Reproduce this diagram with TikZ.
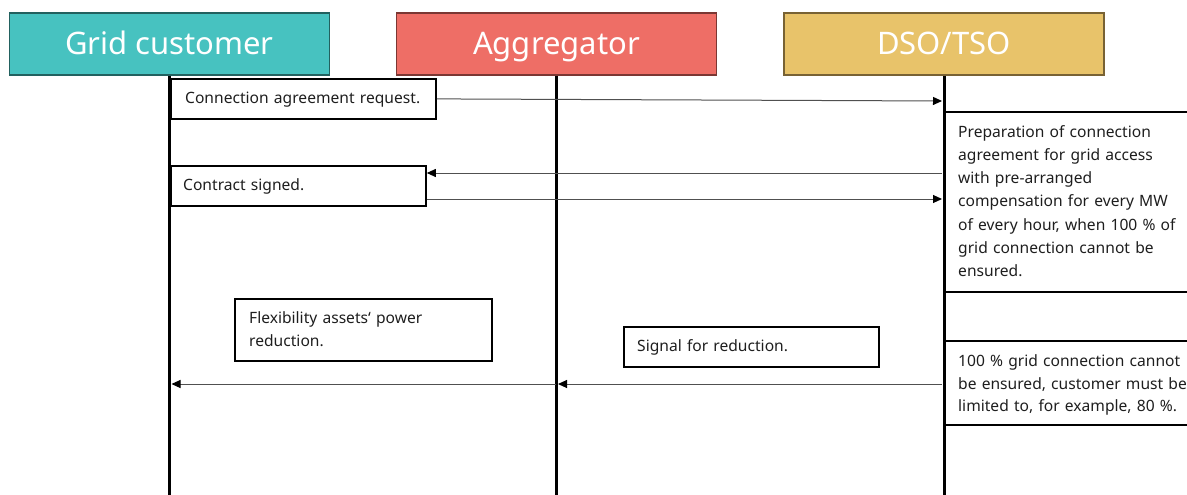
\documentclass[tikz,border=0pt]{standalone}
\usepackage{fontspec}
\setmainfont{Noto Sans}
\usetikzlibrary{arrows.meta}
\definecolor{gcfill}{HTML}{47C2C0}
\definecolor{gcdraw}{HTML}{22615F}
\definecolor{agfill}{HTML}{EE6E66}
\definecolor{agdraw}{HTML}{7B3733}
\definecolor{dsofill}{HTML}{E8C36A}
\definecolor{dsodraw}{HTML}{786234}
\definecolor{msgline}{HTML}{505050}
\definecolor{txt}{HTML}{1E1E1E}

\begin{document}
\begin{tikzpicture}[x=1pt,y=-1pt,
  actor/.style={draw=#1, line width=1.5pt, minimum width=320pt, minimum height=62pt,
    inner sep=0pt},
  actorlabel/.style={anchor=base, inner sep=0pt, text=white,
    font=\fontsize{31}{36}\selectfont},
  lifeline/.style={line width=3pt, black},
  note/.style={draw=black, line width=1.8pt, anchor=north west, inner sep=0pt},
  % first line top = baseline - strut height (0.7 * 23.2pt)
  lbl/.style={anchor=north west, inner sep=0pt, text width=320pt, align=left,
    text=txt, font=\fontsize{15.6}{23.2}\selectfont},
  msg/.style={draw=msgline, line width=1pt, -{Triangle[length=9pt,width=8pt,color=black]}}
]
\useasboundingbox (0,0) rectangle (1187,495);
\coordinate (bottom) at (0,497);

% actors
\node[actor=gcdraw, fill=gcfill]   (gc)  at (169.5,44) {};
\node[actor=agdraw, fill=agfill]   (agg) at (556.5,44) {};
\node[actor=dsodraw, fill=dsofill] (dso) at (944,44)   {};
\node[actorlabel] (gcT)  at (169.5,55) {Grid customer};
\node[actorlabel] (aggT) at (556.5,55) {Aggregator};
\node[actorlabel] (dsoT) at (944,55)   {DSO/TSO};

% lifelines
\draw[lifeline] (gc.south)  -- (gc.south |- bottom);
\draw[lifeline] (agg.south) -- (agg.south |- bottom);
\draw[lifeline] (dso.south) -- (dso.south |- bottom);

% note boxes
\node[note, minimum width=265pt, minimum height=40pt]  (req)      at (170,78)  {};
\node[note, minimum width=255pt, minimum height=40pt]  (contract) at (170,165) {};
\node[note, minimum width=257pt, minimum height=62pt]  (flex)     at (234,298) {};
\node[note, minimum width=255pt, minimum height=40pt]  (signal)   at (623,326) {};
\node[note, minimum width=260pt, minimum height=180pt] (prep)     at (943,111) {};
\node[note, minimum width=260pt, minimum height=49pt]  (gap)      at (943,291) {};
\node[note, minimum width=260pt, minimum height=84pt]  (limit)    at (943,340) {};

% note texts (positions are first-line baselines minus 16.24pt)
\node[lbl] (reqT)      at (185,87.5)    {\strut Connection agreement request.};
\node[lbl] (contractT) at (183,174.3)   {\strut Contract signed.};
\node[lbl] (flexT)     at (249,306.8)   {\strut Flexibility assets‘ power\\reduction.};
\node[lbl] (signalT)   at (637,335.4)   {\strut Signal for reduction.};
\node[lbl] (prepT)     at (958,120.8)   {\strut Preparation of connection\\agreement for grid access\\with pre-arranged\\compensation for every MW\\of every hour, when 100 \% of\\grid connection cannot be\\ensured.};
\node[lbl, font=\fontsize{15.6}{22.2}\selectfont] (limitT) at (958,351.2)
  {\strut 100 \% grid connection cannot\\be ensured, customer must be\\limited to, for example, 80 \%.};

% message endpoints on the lifelines
\coordinate (d1) at (942,101);
\coordinate (d2) at (942,173);
\coordinate (d3) at (942,199);
\coordinate (d4) at (942,384);
\coordinate (a4) at (556,384);
\coordinate (g4) at (171.5,384);

% messages
\draw[msg] (req.east) -- (d1);
\draw[msg] (d2) -- (contract.east |- d2);
\draw[msg] (contract.east |- d3) -- (d3);
\draw[msg] (d4) -- ([xshift=2pt]a4);
\draw[msg] (a4) -- (g4);
\end{tikzpicture}
\end{document}
